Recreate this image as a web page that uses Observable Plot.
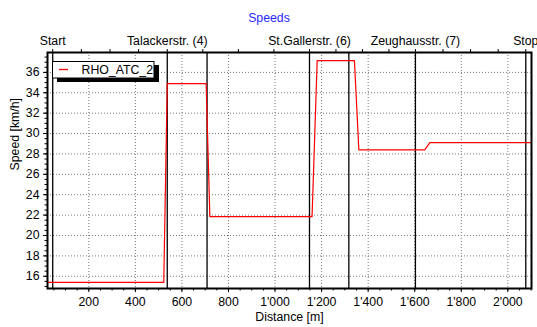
<!DOCTYPE html>
<html>
<head>
<meta charset="utf-8">
<script src="https://cdn.jsdelivr.net/npm/d3@7"></script>
<script src="https://cdn.jsdelivr.net/npm/@observablehq/plot@0.6"></script>
<style>
  html, body { margin: 0; padding: 0; background: #fff; }
  #chart { width: 537px; height: 327px; }
  svg { font-family: "Liberation Sans", Arial, sans-serif; }
</style>
</head>
<body>
<div id="chart"></div>
<script>
// ---- data ----
const distance = [23, 522, 537, 704, 720, 1159, 1181, 1341, 1360, 1643, 1665, 2101];
const speed    = [15.4, 15.4, 34.9, 34.9, 21.85, 21.85, 37.15, 37.15, 28.4, 28.4, 29.1, 29.1];
const seriesName = "RHO_ATC_2";

const stationNames = ["Start", "Talackerstr. (4)", "St.Gallerstr. (6)", "Zeughausstr. (7)", "Stop"];
const stationX     = [45, 537, 1148, 1603, 2077];
const extraStopX   = [708, 1317];

const xTicks = [200, 400, 600, 800, 1000, 1200, 1400, 1600, 1800, 2000];
const yTicks = [16, 18, 20, 22, 24, 26, 28, 30, 32, 34, 36];

const title = "Speeds";
const xLabel = "Distance [m]";
const yLabel = "Speed [km/h]";

// ---- derived ----
const rows = distance.map((d, i) => ({distance: d, speed: speed[i]}));
const stationLines = stationX.concat(extraStopX);
const nameOf = new Map(stationX.map((x, i) => [x, stationNames[i]]));
const topMinor = [];
for (let i = 0; i < stationX.length - 1; i++) {
  for (let k = 1; k < 4; k++) topMinor.push(stationX[i] + (stationX[i + 1] - stationX[i]) * k / 4);
}
const fmt = d3.formatLocale({decimal: ".", thousands: "'", grouping: [3], currency: ["", ""]}).format(",");
const xMinor = d3.range(50, 2101, 50);
const yMinor = d3.range(15, 38, 0.5);

const font = "Liberation Sans, Arial, sans-serif";

const chart = Plot.plot({
  width: 537,
  height: 327,
  marginLeft: 47,
  marginRight: 6,
  marginTop: 52,
  marginBottom: 39,
  style: {fontFamily: font, fontSize: "12px", color: "#000", background: "#fff"},
  x: {domain: [22.6, 2101.6]},
  y: {domain: [14.8, 37.95]},
  marks: [
    Plot.gridX(xTicks, {stroke: "#777", strokeOpacity: 1, strokeDasharray: "1,2"}),
    Plot.gridY(yTicks, {stroke: "#777", strokeOpacity: 1, strokeDasharray: "1,2"}),
    Plot.ruleX(stationLines, {stroke: "#000", strokeWidth: 1.3}),
    Plot.line(rows, {x: "distance", y: "speed", stroke: "#ff0000", strokeWidth: 1.2, clip: true}),
    Plot.frame({stroke: "#000", strokeWidth: 2}),
    // bottom axis
    Plot.axisX(xTicks, {anchor: "bottom", tickSize: 4, tickPadding: 5, tickFormat: fmt, fontSize: 12.3, label: null}),
    Plot.axisX(xMinor, {anchor: "bottom", tickSize: 2.5, text: null, label: null}),
    // top station axis
    Plot.axisX(stationX, {anchor: "top", tickSize: 4, tickPadding: 4, tickFormat: d => nameOf.get(d), fontSize: 12.3, label: null}),
    Plot.axisX(topMinor, {anchor: "top", tickSize: 4, text: null, label: null}),
    // left axis
    Plot.axisY(yTicks, {anchor: "left", tickSize: 4, tickPadding: 4, fontSize: 12.3, label: null}),
    Plot.axisY(yMinor, {anchor: "left", tickSize: 2.5, text: null, label: null}),
    // labels
    Plot.text([xLabel], {frameAnchor: "bottom", dy: 32.5, fontSize: 12.3, fill: "#000"}),
    Plot.text([yLabel], {frameAnchor: "left", rotate: -90, dx: -32, fontSize: 12.3, fill: "#000"}),
    Plot.text([title], {frameAnchor: "top", dx: -20.5, dy: -39.5, fontSize: 12.3, fill: "#2a2aff"})
  ]
});

document.getElementById("chart").appendChild(chart);

// legend box with drop shadow
const svg = d3.select(chart);
const lg = svg.append("g").attr("font-family", font).attr("text-anchor", "start");
lg.append("rect").attr("x", 57).attr("y", 65).attr("width", 102).attr("height", 17).attr("fill", "#000");
lg.append("rect").attr("x", 52.5).attr("y", 61.5).attr("width", 101.5).attr("height", 16.5)
  .attr("fill", "#fff").attr("stroke", "#000").attr("stroke-width", 1);
lg.append("line").attr("x1", 59).attr("x2", 68).attr("y1", 69.5).attr("y2", 69.5)
  .attr("stroke", "#ff0000").attr("stroke-width", 1.3);
lg.append("text").attr("x", 81.5).attr("y", 73.5).attr("font-size", 12.3)
  .attr("text-anchor", "start").attr("fill", "#000").text(seriesName);
</script>
</body>
</html>
